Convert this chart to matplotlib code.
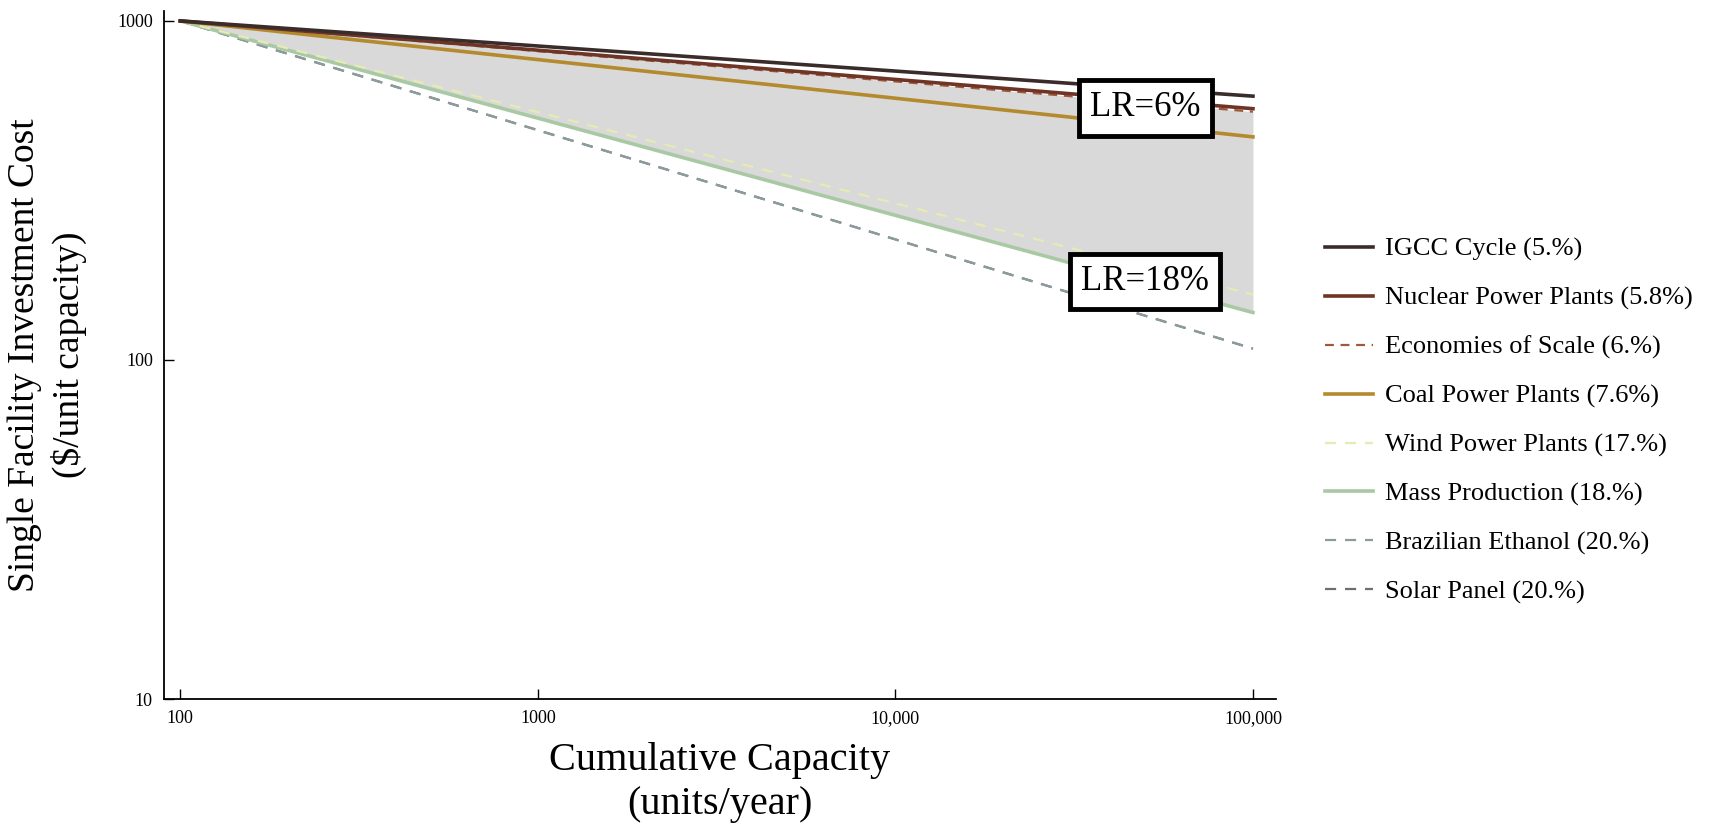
import matplotlib
matplotlib.use("Agg")
import matplotlib.pyplot as plt
from matplotlib.ticker import FixedLocator, FixedFormatter, NullLocator

# ---- data ----
series_names = ["IGCC Cycle (5.%)", "Nuclear Power Plants (5.8%)", "Economies of Scale (6.%)",
                "Coal Power Plants (7.6%)", "Wind Power Plants (17.%)", "Mass Production (18.%)",
                "Brazilian Ethanol (20.%)", "Solar Panel (20.%)"]
x_points = [100, 100000]
cost_start = [1000, 1000, 1000, 1000, 1000, 1000, 1000, 1000]
cost_end = [600, 551, 540, 455, 156, 138, 108, 108]
colors = ["#3b2c2c", "#6e3526", "#a0583a", "#b48a2e", "#e6ebb4", "#a9c9a4", "#8c9c9e", "#6e6e6e"]
styles = ["-", "-", (0, (4, 3)), "-", (0, (5, 4)), "-", (0, (5, 4)), (0, (5, 4))]
widths = [2.6, 2.6, 1.6, 2.6, 1.6, 2.6, 1.6, 1.6]
fill_upper = 2   # Economies of Scale
fill_lower = 5   # Mass Production
annotations = [("LR=6%", 50000, 554), ("LR=18%", 50000, 170)]
x_ticks = [100, 1000, 10000, 100000]
x_tick_labels = ["100", "1000", "10,000", "100,000"]
y_ticks = [10, 100, 1000]
y_tick_labels = ["10", "100", "1000"]

plt.rcParams["font.family"] = ["Liberation Serif", "DejaVu Serif"]

fig = plt.figure(figsize=(17.33, 8.25), dpi=100)
ax = fig.add_axes([0.0946, 0.1527, 0.6417, 0.834])

ax.fill_between(x_points, [cost_start[fill_upper], cost_end[fill_upper]],
                [cost_start[fill_lower], cost_end[fill_lower]], color="#d9d9d9", lw=0, zorder=1)

order = [7, 6, 5, 4, 3, 2, 1, 0]
lines = {}
for i in order:
    ln, = ax.plot(x_points, [cost_start[i], cost_end[i]], color=colors[i], ls=styles[i],
                  lw=widths[i], label=series_names[i], zorder=2 + (8 - i) * 0.1)
    lines[i] = ln

ax.set_xscale("log")
ax.set_yscale("log")
ax.set_xlim(90, 116000)
ax.set_ylim(10, 1070)
ax.xaxis.set_major_locator(FixedLocator(x_ticks))
ax.xaxis.set_major_formatter(FixedFormatter(x_tick_labels))
ax.yaxis.set_major_locator(FixedLocator(y_ticks))
ax.yaxis.set_major_formatter(FixedFormatter(y_tick_labels))
ax.xaxis.set_minor_locator(NullLocator())
ax.yaxis.set_minor_locator(NullLocator())
ax.tick_params(direction="in", length=7, width=1, labelsize=13, pad=8)
for s in ["top", "right"]:
    ax.spines[s].set_visible(False)
for s in ["left", "bottom"]:
    ax.spines[s].set_linewidth(1.3)

ax.set_xlabel("Cumulative Capacity\n(units/year)", fontsize=29, linespacing=1.25, labelpad=11)
ax.set_ylabel("Single Facility Investment Cost\n($/unit capacity)", fontsize=27, linespacing=1.3, labelpad=22)

for txt, xv, yv in annotations:
    ax.text(xv, yv, txt, fontsize=25, ha="center", va="center", zorder=10,
            bbox=dict(boxstyle="square,pad=0.32", fc="white", ec="black", lw=3.5))

handles = [lines[i] for i in range(8)]
fig.legend(handles, series_names, loc="center left", bbox_to_anchor=(0.751, 0.49),
           frameon=False, fontsize=19, handlelength=1.8, handletextpad=0.45, labelspacing=0.95)

fig.savefig("out.png", dpi=100)
